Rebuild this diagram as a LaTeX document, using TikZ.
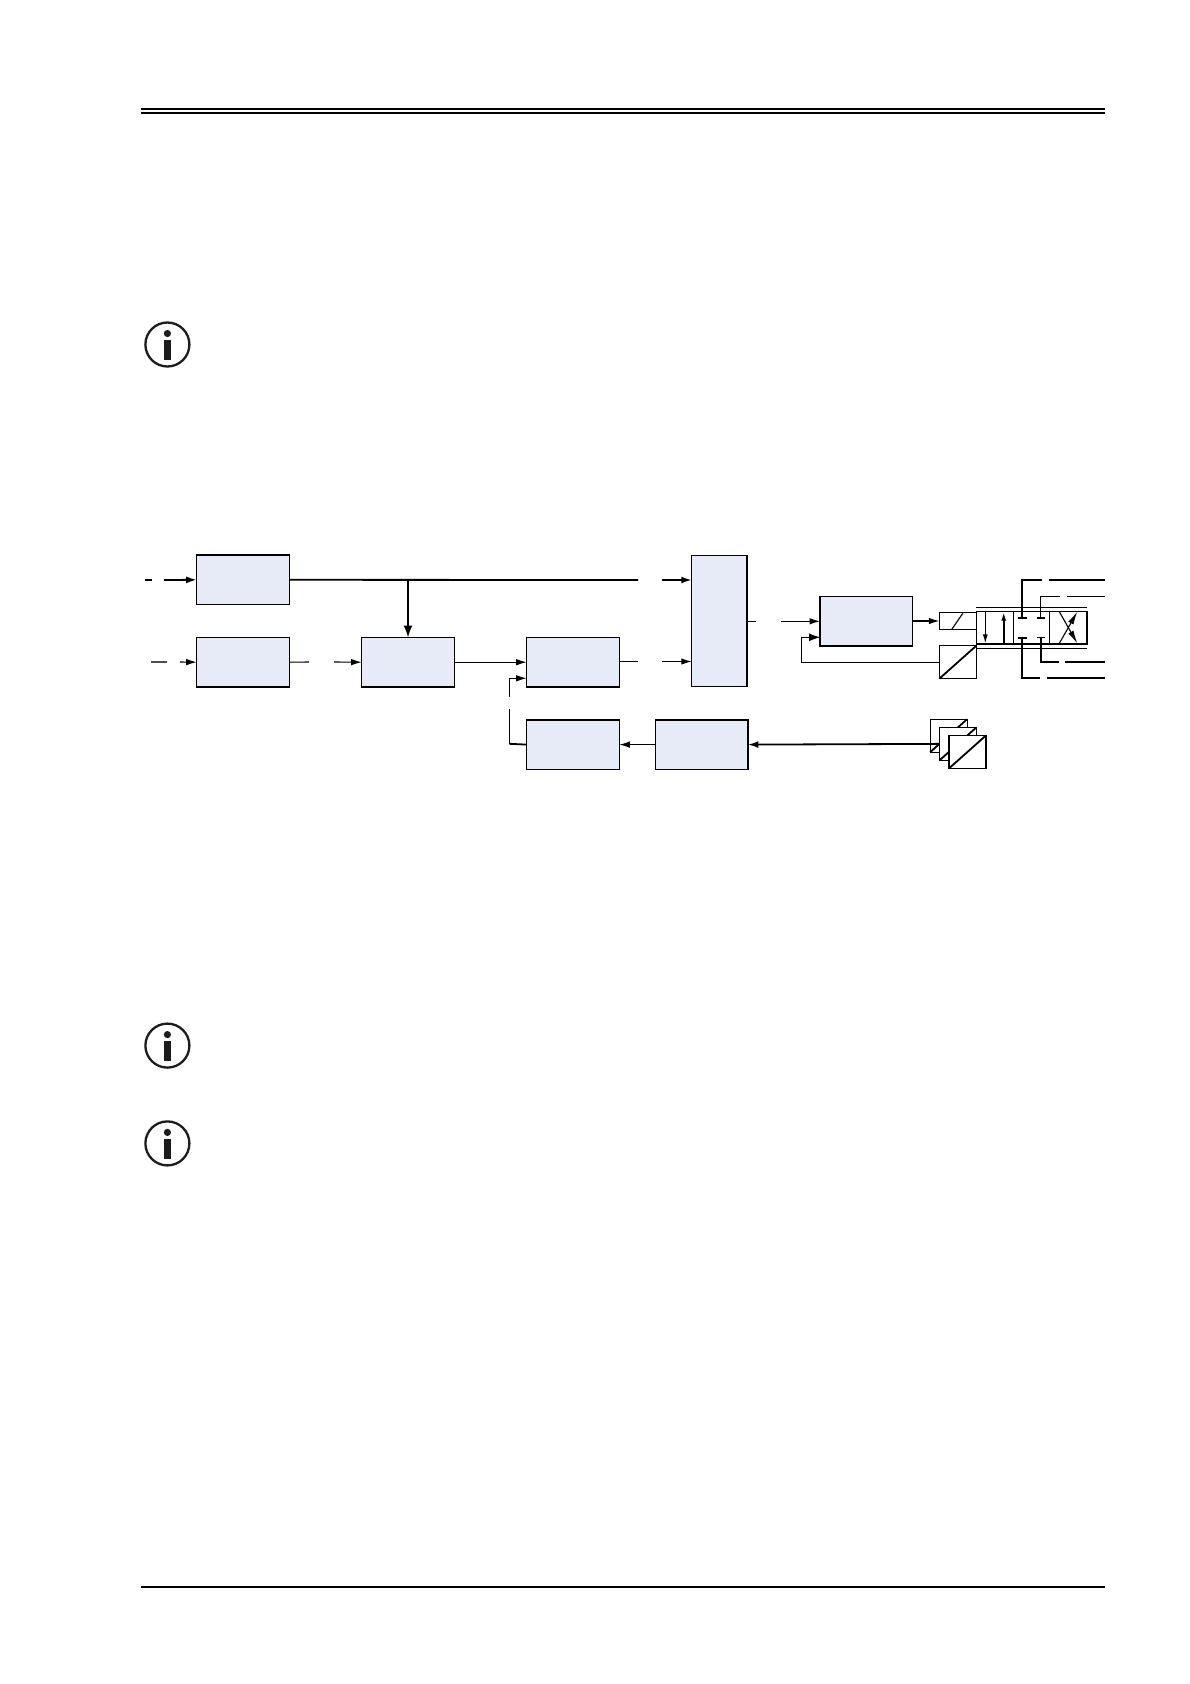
\documentclass[tikz,border=0pt]{standalone}
\usepackage{xcolor}
\usepackage{tikz}
\usetikzlibrary{arrows.meta,positioning,calc}
\definecolor{boxblue}{HTML}{E6EBF7}
\definecolor{icongray}{HTML}{1C1C1C}
\tikzset{
  ctrlbox/.style={
    draw=black, line width=1.4pt, fill=boxblue,
    inner sep=0pt, outer sep=0pt, minimum width=92.6pt, minimum height=49.4pt},
  symbox/.style={
    draw=black, line width=1.2pt, fill=white,
    inner sep=0pt, outer sep=0pt},
  sensorbox/.style={symbox, minimum width=37pt, minimum height=33pt},
  valvecell/.style={symbox, line width=1.6pt, minimum height=32.3pt},
  infocircle/.style={
    circle, draw=icongray, line width=2.3pt, fill=white,
    inner sep=0pt, outer sep=0pt, minimum size=44pt},
  sigarrow/.style={
    -{Latex[length=10.5pt,width=6.5pt]}, line width=1.1pt, color=black},
  bigarrow/.style={
    -{Latex[length=10.5pt,width=7pt]}, line width=1.8pt, color=black},
  sigline/.style={line width=1.1pt, color=black},
  bigline/.style={line width=1.8pt, color=black},
  pageline/.style={line width=2pt, color=black},
}

\begin{document}
\begin{tikzpicture}[x=1pt,y=-1pt]
  \useasboundingbox (0,0) rectangle (1190,1684);

  % page rules
  \coordinate (ruleL) at (141,109);
  \coordinate (ruleR) at (1105,109);
  \draw[sigline] (ruleL) -- (ruleR);
  \draw[pageline] (141,112.7) -- (1105,112.7);
  \draw[pageline] (141,1586.7) -- (1105,1586.7);

  % info icons
  \foreach \i/\y in {1/344.5, 2/1045.6, 3/1143.4} {
    \node[infocircle] (info\i) at (167.4,\y) {};
    \fill[icongray] (167.4,\y-11) circle (3.6);
    \fill[icongray] (163.8,\y-4.5) rectangle (171,\y+15.5);
  }

  % control blocks
  \node[ctrlbox] (setA) at (243,579.8) {};
  \node[ctrlbox, below=33pt of setA] (setB) {};
  \node[ctrlbox, right=72.4pt of setB] (limit) {};
  \node[ctrlbox, right=72.4pt of limit] (ctrl) {};
  \node[ctrlbox, below=33pt of ctrl] (conv) {};
  \node[ctrlbox, right=36pt of conv] (meas) {};
  \node[ctrlbox, minimum width=55.3pt, minimum height=131.4pt] (sum) at (719.4,621) {};
  \node[ctrlbox] (amp) at (866.3,621.3) {};

  % valve
  \node[symbox, minimum width=37pt, minimum height=16.6pt] (sol) at (957.8,621) {};
  \draw[sigline] (sol.south)++(-6,0) -- ++(11,-16);
  \node[sensorbox] (pos) at (957.8,662.2) {};
  \draw[bigline] (pos.south west) -- (pos.north east);
  \node[valvecell, minimum width=37pt] (cellA) at (994.8,627.8) {};
  \node[valvecell, minimum width=36pt] (cellB) at (1031.3,627.8) {};
  \node[valvecell, minimum width=37.4pt] (cellC) at (1068,627.8) {};
  \draw[sigline] (cellA.north west)++(0,-4.4) -- ($(cellC.north east)+(0,-4.4)$);
  \draw[sigline] (cellA.south west)++(0,4.4) -- ($(cellC.south east)+(0,4.4)$);
  \draw[-{Latex[length=9pt,width=5pt]}, sigline] (985.3,610.7) -- (985.3,643.4);
  \draw[-{Latex[length=9pt,width=5pt]}, bigline] (1003.7,643.4) -- (1003.7,611.7);
  \draw[-{Latex[length=13pt,width=6pt]}, sigline] (1059.3,611.7) -- (1077.3,643.4);
  \draw[-{Latex[length=13pt,width=6pt]}, sigline] (1059.3,643.4) -- (1077.3,611.7);

  % valve ports
  \draw[bigline] (1018,618) -- (1026.7,618);
  \draw[sigline] (1036.7,618) -- (1045,618);
  \draw[bigline] (1018.3,637.7) -- (1026.7,637.7);
  \draw[sigline] (1036.7,637.7) -- (1045,637.7);
  \draw[bigline] (1022,618) -- (1022,580) -- (1041.7,580);
  \draw[bigline] (1049,580) -- (1105,580);
  \draw[sigline] (1040.7,618) -- (1040.7,596.3) -- (1060,596.3);
  \draw[sigline] (1067,596.3) -- (1105,596.3);
  \draw[bigline] (1040.7,637.7) -- (1040.7,661.7) -- (1059,661.7);
  \draw[bigline] (1065,661.7) -- (1105,661.7);
  \draw[sigline] (1022,637.7) -- (1022,678) -- (1040,678);
  \draw[sigline] (1047,678) -- (1105,678);

  % sensors
  \node[sensorbox] (sensA) at (948.6,735.7) {};
  \draw[bigline] (sensA.south west) -- (sensA.north east);
  \draw[bigarrow] (958,743.8) -- (meas.east);
  \node[sensorbox] (sensB) at (958,743.8) {};
  \draw[bigline] (sensB.south west) -- (sensB.north east);
  \node[sensorbox] (sensC) at (967.4,752) {};
  \draw[bigline] (sensC.south west) -- (sensC.north east);

  % gaps in the signal lines
  \coordinate (inAa) at (145,580);
  \coordinate (inAb) at (152,580);
  \coordinate (inAc) at (164,580);
  \coordinate (inBa) at (151,662);
  \coordinate (inBb) at (167,662);
  \coordinate (inBc) at (180,662);
  \coordinate (setBout) at (309,662);
  \coordinate (limitin) at (334,662);
  \coordinate (setAout) at (638,580);
  \coordinate (sumA) at (662,580);
  \coordinate (ctrlout) at (638,661.5);
  \coordinate (sumB) at (662,661.5);
  \coordinate (sumout) at (756,621.3);
  \coordinate (ampin) at (781,621.3);
  \coordinate (convA) at (509.3,709);
  \coordinate (convB) at (509.3,697.3);
  \coordinate (convC) at (509.3,743.8);

  % connectors
  \draw[bigline] (inAa) -- (inAb);
  \draw[bigarrow] (inAc) -- (setA.west);
  \draw[bigline] (setA.east) -- (setAout);
  \draw[bigarrow] (sumA) -- (sumA -| sum.west);
  \draw[-{Latex[length=12pt,width=9pt]}, bigline] (setA.east -| limit.north) -- (limit.north);
  \draw[bigline, color=black!70] (inBa) -- (inBb);
  \draw[sigarrow] (inBc) -- (setB.west);
  \draw[sigline] (setB.east) -- (setBout);
  \draw[sigarrow] (limitin) -- (limit.west);
  \draw[sigarrow] (limit.east) -- (ctrl.west);
  \draw[bigline] (conv.west) -- (convC);
  \draw[sigline] (convC) -- (convA);
  \draw[sigarrow] (convB) |- (526.7,678.3);
  \draw[sigline] (ctrl.east |- ctrlout) -- (ctrlout);
  \draw[sigarrow] (sumB) -- (sumB -| sum.west);
  \draw[sigline] (sum.east |- sumout) -- (sumout);
  \draw[sigarrow] (ampin) -- (ampin -| amp.west);
  \draw[sigarrow] (amp.east |- sol.west) -- (sol.west);
  \draw[sigline] (pos.west) -| (801.7,637.3);
  \draw[-{Latex[length=11.5pt,width=8pt]}, sigline] (801.7,637.3) -- (820.5,637.3);
  \draw[sigarrow] (meas.west) -- (conv.east);
\end{tikzpicture}
\end{document}
